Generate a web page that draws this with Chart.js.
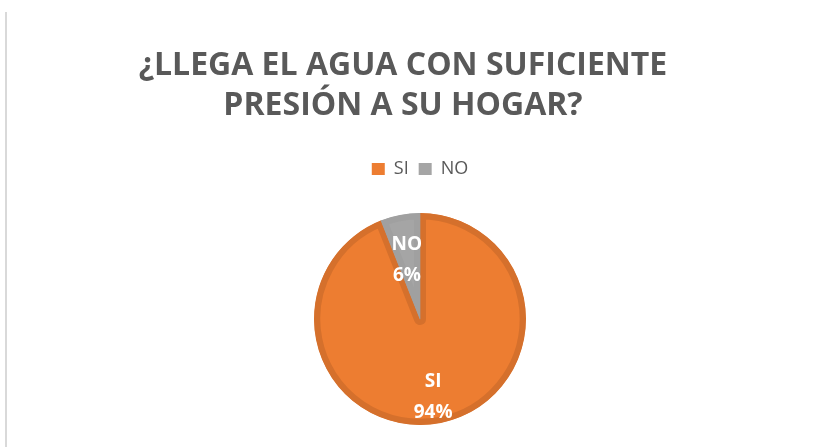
<!DOCTYPE html>
<html>
<head>
<meta charset="utf-8">
<script src="https://cdn.jsdelivr.net/npm/chart.js@4"></script>
<style>
  html, body { margin: 0; padding: 0; background: #fff; }
  #frame { position: absolute; left: 5px; top: 12px; width: 2px; height: 435px; background: #d9d9d9; }
  #wrap { position: absolute; left: 0; top: 0; width: 824px; height: 447px; }
</style>
</head>
<body>
<div id="frame"></div>
<div id="wrap"><canvas id="chart"></canvas></div>
<script>
const labels = ["SI", "NO"];
const values = [94, 6];
const titleLines = ["¿LLEGA EL AGUA CON SUFICIENTE", "PRESIÓN A SU HOGAR?"];

const fill = ["#ED7D31", "#A5A5A5"];
const edge = ["#D5702C", "#A0A0A0"];

// white labels inside each slice: name on one line, percent below
const sliceLabels = {
  id: "sliceLabels",
  afterDatasetsDraw(chart) {
    const ctx = chart.ctx;
    const meta = chart.getDatasetMeta(0);
    const total = values.reduce((a, b) => a + b, 0);
    ctx.save();
    ctx.fillStyle = "#ffffff";
    ctx.font = "bold 19px 'Open Sans'";
    ctx.textAlign = "center";
    ctx.textBaseline = "middle";
    meta.data.forEach((arc, i) => {
      const mid = (arc.startAngle + arc.endAngle) / 2;
      const r = arc.outerRadius * 0.66;
      const x = arc.x + Math.cos(mid) * r;
      const y = arc.y + Math.sin(mid) * r;
      const pct = Math.round(values[i] / total * 100) + "%";
      ctx.fillText(labels[i], x, y - 6);
      ctx.fillText(pct, x, y + 25);
    });
    ctx.restore();
  }
};

// leave some room between the legend and the pie,
// and nudge the title a little left of the pie like the original
const layoutTweaks = {
  id: "layoutTweaks",
  beforeInit(chart) {
    const fit = chart.legend.fit;
    chart.legend.fit = function () {
      fit.bind(chart.legend)();
      this.height += 25;
    };
  },
  afterLayout(chart) {
    chart.titleBlock.right -= 34;
  }
};

const defaultLabels = Chart.overrides.pie.plugins.legend.labels.generateLabels;

const config = {
  type: "pie",
  data: {
    labels,
    datasets: [{
      data: values,
      backgroundColor: fill,
      borderColor: edge,
      borderWidth: 6,
      borderAlign: "inner"
    }]
  },
  options: {
    responsive: true,
    maintainAspectRatio: false,
    animation: false,
    layout: { padding: { left: 16, right: 0, top: 0, bottom: 22 } },
    plugins: {
      title: {
        display: true,
        text: titleLines,
        color: "#595959",
        font: { family: "'Open Sans'", size: 32, weight: "bold", lineHeight: 1.25 },
        padding: { top: 46, bottom: 24 }
      },
      legend: {
        position: "top",
        labels: {
          boxWidth: 13,
          boxHeight: 12,
          color: "#595959",
          font: { family: "'Open Sans'", size: 18 },
          padding: 10,
          // plain filled squares, no thick slice border
          generateLabels(chart) {
            return defaultLabels(chart).map((item) => {
              item.lineWidth = 0;
              return item;
            });
          }
        }
      },
      tooltip: { enabled: false }
    }
  },
  plugins: [sliceLabels, layoutTweaks]
};

window.onload = function () {
  const ctx = document.getElementById("chart").getContext("2d");
  window.chart = new Chart(ctx, config);
};
</script>
</body>
</html>
